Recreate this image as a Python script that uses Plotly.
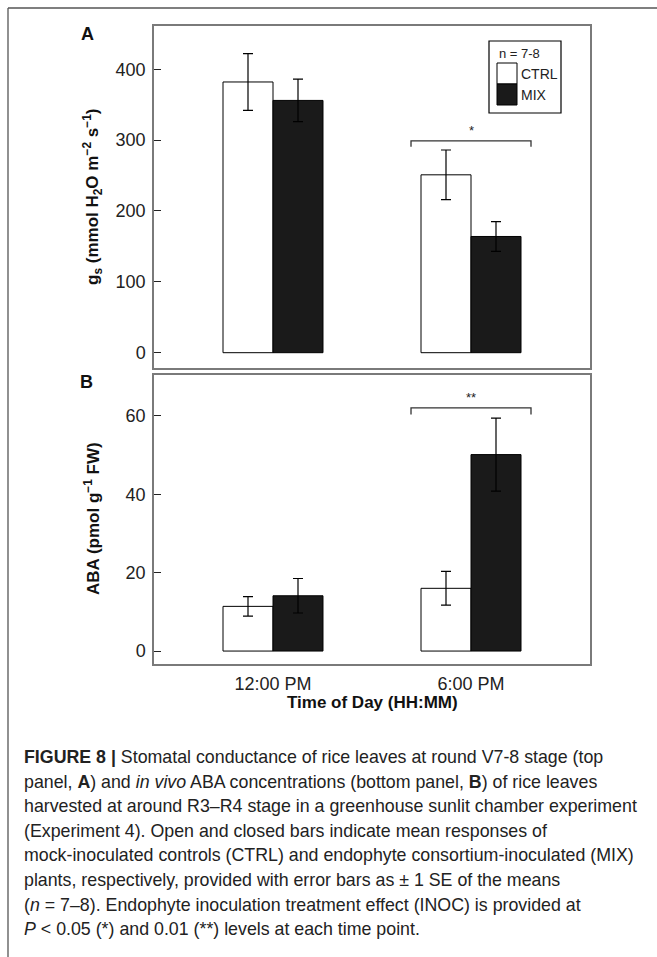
import plotly.graph_objects as go

# ---- data ----
times = ["12:00 PM", "6:00 PM"]
groups = ["CTRL", "MIX"]

gs_ctrl = [382, 251]
gs_ctrl_se = [40, 35]
gs_mix = [356, 164]
gs_mix_se = [30, 21]

aba_ctrl = [11.4, 16.0]
aba_ctrl_se = [2.5, 4.3]
aba_mix = [14.1, 50.1]
aba_mix_se = [4.4, 9.3]

gs_ticks = [0, 100, 200, 300, 400]
aba_ticks = [0, 20, 40, 60]

sig_labels = ["*", "**"]
sig_heights = [299, 62]
sig_drops = [8.5, 1.7]

caption_lines = [
    "<b>FIGURE 8 |</b> Stomatal conductance of rice leaves at round V7-8 stage (top",
    "panel, <b>A</b>) and <i>in vivo</i> ABA concentrations (bottom panel, <b>B</b>) of rice leaves",
    "harvested at around R3–R4 stage in a greenhouse sunlit chamber experiment",
    "(Experiment 4). Open and closed bars indicate mean responses of",
    "mock-inoculated controls (CTRL) and endophyte consortium-inoculated (MIX)",
    "plants, respectively, provided with error bars as ± 1 SE of the means",
    "(<i>n</i> = 7–8). Endophyte inoculation treatment effect (INOC) is provided at",
    "<i>P</i> < 0.05 (*) and 0.01 (**) levels at each time point.",
]

# ---- page geometry (pixels) ----
W, H = 657, 957
FONT = "Liberation Sans, Arial, sans-serif"
INK = "#1a1a1a"


def px(x):
    return x / W


def py(y):
    return 1 - y / H


def label(x, y, text, size, color="#111", xanchor="center", angle=0):
    fig.add_annotation(x=px(x), y=py(y), xref="paper", yref="paper", text=text,
                       showarrow=False, xanchor=xanchor, yanchor="middle", textangle=angle,
                       align="left", font=dict(family=FONT, size=size, color=color))


xpos = [1, 2]
fig = go.Figure()

bar_line = dict(color="black", width=1)
err = dict(type="data", color="black", thickness=1.2, width=5)

fig.add_trace(go.Bar(x=xpos, y=gs_ctrl, name=groups[0], marker=dict(color="white", line=bar_line),
                     error_y=dict(array=gs_ctrl_se, **err), xaxis="x", yaxis="y"))
fig.add_trace(go.Bar(x=xpos, y=gs_mix, name=groups[1], marker=dict(color=INK, line=bar_line),
                     error_y=dict(array=gs_mix_se, **err), xaxis="x", yaxis="y"))
fig.add_trace(go.Bar(x=xpos, y=aba_ctrl, name=groups[0], marker=dict(color="white", line=bar_line),
                     error_y=dict(array=aba_ctrl_se, **err), xaxis="x2", yaxis="y2"))
fig.add_trace(go.Bar(x=xpos, y=aba_mix, name=groups[1], marker=dict(color=INK, line=bar_line),
                     error_y=dict(array=aba_mix_se, **err), xaxis="x2", yaxis="y2"))

# significance brackets over the 6:00 PM group
half = 0.303
for i, (xa, ya) in enumerate([("x", "y"), ("x2", "y2")]):
    h = sig_heights[i]
    d = sig_drops[i]
    fig.add_trace(go.Scatter(x=[2 - half, 2 - half, 2 + half, 2 + half], y=[h - d, h, h, h - d],
                             mode="lines", line=dict(color="#333", width=1.3),
                             xaxis=xa, yaxis=ya, hoverinfo="skip"))
    fig.add_annotation(x=2, y=h, xref=xa, yref=ya, text=sig_labels[i], showarrow=False,
                       xanchor="center", yanchor="bottom", yshift=1,
                       font=dict(family=FONT, size=13, color="#222"))

box_axis = dict(showline=True, mirror=True, linecolor="#7a7a7a", linewidth=1.5,
                showgrid=False, zeroline=False)
tickfont = dict(family=FONT, size=18, color="#222")

x_dom = [px(154), px(590)]
fig.update_layout(
    width=W, height=H,
    margin=dict(l=0, r=0, t=0, b=0),
    paper_bgcolor="white", plot_bgcolor="white",
    showlegend=False,
    barmode="group", bargap=0.495, bargroupgap=0,
    xaxis=dict(domain=x_dom, range=[0.399, 2.601], anchor="y", showticklabels=False,
               ticks="", **box_axis),
    yaxis=dict(domain=[py(368), py(26)], range=[-21.6, 461], anchor="x",
               tickvals=gs_ticks, ticks="inside", ticklen=7, tickcolor="#222",
               ticklabelstandoff=3, tickfont=tickfont, **box_axis),
    xaxis2=dict(domain=x_dom, range=[0.399, 2.601], anchor="y2", tickvals=xpos,
                ticktext=times, ticks="", tickfont=tickfont, ticklabelstandoff=3, **box_axis),
    yaxis2=dict(domain=[py(664), py(375)], range=[-3.3, 70.4], anchor="x2",
                tickvals=aba_ticks, ticks="inside", ticklen=7, tickcolor="#222",
                ticklabelstandoff=3, tickfont=tickfont, **box_axis),
)

# panel letters and axis titles
label(87, 34, "<b>A</b>", 18)
label(86, 382, "<b>B</b>", 18)
label(92, 197, "<b>g<sub>s</sub> (mmol H<sub>2</sub>O m<sup>−2</sup> s<sup>−1</sup>)</b>", 17, angle=-90)
label(92, 519, "<b>ABA (pmol g<sup>−1</sup> FW)</b>", 17, angle=-90)
label(372, 702, "<b>Time of Day (HH:MM)</b>", 17)

# legend box drawn in the upper panel
fig.add_shape(type="rect", xref="paper", yref="paper", x0=px(489), x1=px(561), y0=py(113), y1=py(41),
              line=dict(color="black", width=1.2), fillcolor="white")
label(497, 54, "n = 7-8", 13, color="#222", xanchor="left")
for name, fill, top in [(groups[0], "white", 63), (groups[1], INK, 84)]:
    fig.add_shape(type="rect", xref="paper", yref="paper", x0=px(497), x1=px(517),
                  y0=py(top + 21), y1=py(top), line=dict(color="black", width=1), fillcolor=fill)
    label(519, top + 11, name, 14, color="#222", xanchor="left")

# outer frame
fig.add_shape(type="line", xref="paper", yref="paper", x0=px(8), x1=1, y0=py(8), y1=py(8),
              line=dict(color="#555", width=1.3))
fig.add_shape(type="line", xref="paper", yref="paper", x0=px(8), x1=px(8), y0=py(8), y1=0,
              line=dict(color="#555", width=1.3))

# caption
for i, line in enumerate(caption_lines):
    label(22, 757 + i * 24.6, line, 17.8, color="#222", xanchor="left")

fig.write_html("out.html")
